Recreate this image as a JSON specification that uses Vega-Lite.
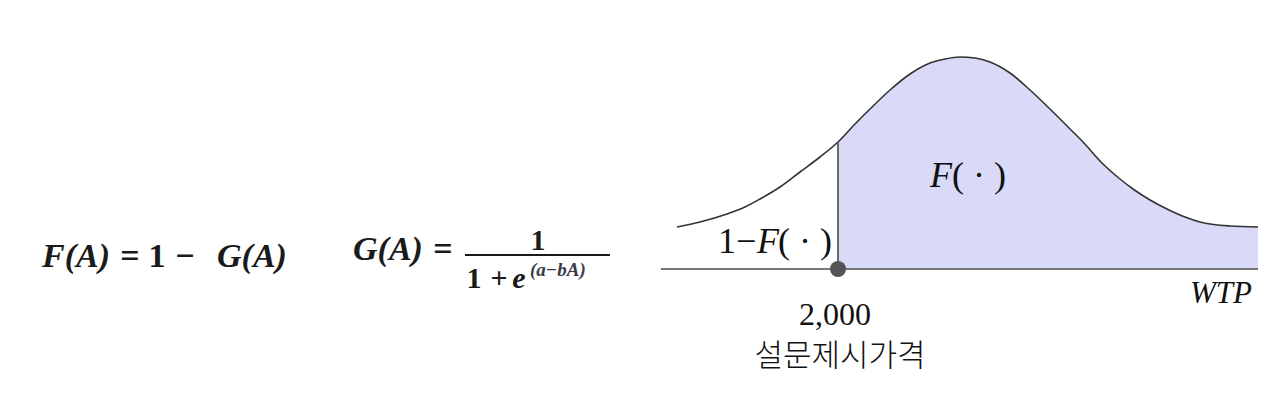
{
  "$schema": "https://vega.github.io/schema/vega-lite/v6.json",
  "width": 1280,
  "height": 413,
  "autosize": {"type": "fit", "contains": "padding"},
  "padding": 0,
  "background": "white",
  "config": {"view": {"stroke": null}},
  "datasets": {
    "curve": [
      {"x": 677, "h": 42}, {"x": 700, "h": 47}, {"x": 727, "h": 55}, {"x": 745, "h": 62},
      {"x": 760, "h": 70}, {"x": 780, "h": 82}, {"x": 800, "h": 97}, {"x": 820, "h": 112},
      {"x": 838, "h": 127}, {"x": 855, "h": 145}, {"x": 870, "h": 160}, {"x": 890, "h": 179},
      {"x": 910, "h": 195}, {"x": 930, "h": 206}, {"x": 945, "h": 210}, {"x": 960, "h": 212},
      {"x": 975, "h": 211}, {"x": 990, "h": 207}, {"x": 1010, "h": 196}, {"x": 1030, "h": 179},
      {"x": 1050, "h": 160}, {"x": 1070, "h": 140}, {"x": 1083, "h": 127}, {"x": 1103, "h": 105},
      {"x": 1120, "h": 90}, {"x": 1133, "h": 80}, {"x": 1150, "h": 69}, {"x": 1167, "h": 60},
      {"x": 1185, "h": 52}, {"x": 1200, "h": 47}, {"x": 1230, "h": 43}, {"x": 1258, "h": 42}
    ],
    "labels": [
      {"grp": "eqItalic", "x": 42, "h": 2, "t": "F(A)"},
      {"grp": "eqItalic", "x": 217, "h": 2, "t": "G(A)"},
      {"grp": "eqItalic", "x": 353, "h": 9, "t": "G(A)"},
      {"grp": "eqUpright", "x": 130, "h": 2, "t": "="},
      {"grp": "eqUpright", "x": 157, "h": 2, "t": "1"},
      {"grp": "eqUpright", "x": 185, "h": 2, "t": "−"},
      {"grp": "eqUpright", "x": 443, "h": 9, "t": "="},
      {"grp": "frac", "x": 538, "h": 19, "t": "1"},
      {"grp": "frac", "x": 474, "h": -19, "t": "1"},
      {"grp": "frac", "x": 499, "h": -19, "t": "+"},
      {"grp": "fracItalic", "x": 519, "h": -19, "t": "e"},
      {"grp": "sup", "x": 530, "h": -7, "t": "(a−bA)"},
      {"grp": "lblUp", "x": 718, "h": 16, "t": "1−"},
      {"grp": "lblUp", "x": 778, "h": 16, "t": "( · )"},
      {"grp": "lblUp", "x": 952, "h": 82, "t": "( · )"},
      {"grp": "lblIt", "x": 757, "h": 16, "t": "F"},
      {"grp": "lblIt", "x": 930, "h": 82, "t": "F"},
      {"grp": "wtp", "x": 1252, "h": -34, "t": "WTP"},
      {"grp": "price", "x": 835, "h": -56, "t": "2,000"},
      {"grp": "kor", "x": 840, "h": -97, "t": "설문제시가격"}
    ],
    "rules": [
      {"k": "base", "x1": 661, "x2": 1258, "y1": 0, "y2": 0},
      {"k": "vert", "x1": 838, "x2": 838, "y1": 0, "y2": 127},
      {"k": "bar", "x1": 465, "x2": 610, "y1": 14, "y2": 14}
    ],
    "dot": [{"x": 838, "h": 0}]
  },
  "layer": [
    {
      "data": {"name": "curve"},
      "transform": [{"filter": "datum.x >= 838"}],
      "mark": {"type": "area", "color": "#d9d9f8", "opacity": 1, "interpolate": "monotone"},
      "encoding": {
        "x": {"field": "x", "type": "quantitative", "scale": {"domain": [0, 1280], "nice": false, "zero": false}, "axis": null},
        "y": {"field": "h", "type": "quantitative", "scale": {"domain": [-144, 269], "nice": false, "zero": false}, "axis": null},
        "y2": {"datum": 0}
      }
    },
    {
      "data": {"name": "curve"},
      "mark": {"type": "line", "color": "#333333", "strokeWidth": 1.6, "interpolate": "monotone"},
      "encoding": {
        "x": {"field": "x", "type": "quantitative"},
        "y": {"field": "h", "type": "quantitative"}
      }
    },
    {
      "data": {"name": "rules"},
      "transform": [{"filter": "datum.k != 'bar'"}],
      "mark": {"type": "rule", "color": "#4a4a4a", "strokeWidth": 1.6},
      "encoding": {
        "x": {"field": "x1", "type": "quantitative"},
        "x2": {"field": "x2"},
        "y": {"field": "y1", "type": "quantitative"},
        "y2": {"field": "y2"}
      }
    },
    {
      "data": {"name": "rules"},
      "transform": [{"filter": "datum.k == 'bar'"}],
      "mark": {"type": "rule", "color": "#1a1a1a", "strokeWidth": 2},
      "encoding": {
        "x": {"field": "x1", "type": "quantitative"},
        "x2": {"field": "x2"},
        "y": {"field": "y1", "type": "quantitative"},
        "y2": {"field": "y2"}
      }
    },
    {
      "data": {"name": "dot"},
      "mark": {"type": "circle", "color": "#555555", "opacity": 1, "size": 260},
      "encoding": {
        "x": {"field": "x", "type": "quantitative"},
        "y": {"field": "h", "type": "quantitative"}
      }
    },
    {
      "data": {"name": "labels"},
      "transform": [{"filter": "datum.grp == 'eqItalic'"}],
      "mark": {"type": "text", "align": "left", "baseline": "alphabetic", "font": "'Liberation Serif', 'Times New Roman', 'DejaVu Serif', serif", "fontStyle": "italic", "fontWeight": "bold", "fontSize": 34, "color": "#1a1a1a"},
      "encoding": {"x": {"field": "x", "type": "quantitative"}, "y": {"field": "h", "type": "quantitative"}, "text": {"field": "t"}}
    },
    {
      "data": {"name": "labels"},
      "transform": [{"filter": "datum.grp == 'eqUpright'"}],
      "mark": {"type": "text", "align": "center", "baseline": "alphabetic", "font": "'Liberation Serif', 'Times New Roman', 'DejaVu Serif', serif", "fontWeight": "bold", "fontSize": 34, "color": "#1a1a1a"},
      "encoding": {"x": {"field": "x", "type": "quantitative"}, "y": {"field": "h", "type": "quantitative"}, "text": {"field": "t"}}
    },
    {
      "data": {"name": "labels"},
      "transform": [{"filter": "datum.grp == 'frac'"}],
      "mark": {"type": "text", "align": "center", "baseline": "alphabetic", "font": "'Liberation Serif', 'Times New Roman', 'DejaVu Serif', serif", "fontWeight": "bold", "fontSize": 30, "color": "#1a1a1a"},
      "encoding": {"x": {"field": "x", "type": "quantitative"}, "y": {"field": "h", "type": "quantitative"}, "text": {"field": "t"}}
    },
    {
      "data": {"name": "labels"},
      "transform": [{"filter": "datum.grp == 'fracItalic'"}],
      "mark": {"type": "text", "align": "center", "baseline": "alphabetic", "font": "'Liberation Serif', 'Times New Roman', 'DejaVu Serif', serif", "fontStyle": "italic", "fontWeight": "bold", "fontSize": 30, "color": "#1a1a1a"},
      "encoding": {"x": {"field": "x", "type": "quantitative"}, "y": {"field": "h", "type": "quantitative"}, "text": {"field": "t"}}
    },
    {
      "data": {"name": "labels"},
      "transform": [{"filter": "datum.grp == 'sup'"}],
      "mark": {"type": "text", "align": "left", "baseline": "alphabetic", "font": "'Liberation Serif', 'Times New Roman', 'DejaVu Serif', serif", "fontStyle": "italic", "fontWeight": "bold", "fontSize": 19, "color": "#3a3a4a"},
      "encoding": {"x": {"field": "x", "type": "quantitative"}, "y": {"field": "h", "type": "quantitative"}, "text": {"field": "t"}}
    },
    {
      "data": {"name": "labels"},
      "transform": [{"filter": "datum.grp == 'lblUp'"}],
      "mark": {"type": "text", "align": "left", "baseline": "alphabetic", "font": "'Liberation Serif', 'Times New Roman', 'DejaVu Serif', serif", "fontSize": 36, "color": "#111111"},
      "encoding": {"x": {"field": "x", "type": "quantitative"}, "y": {"field": "h", "type": "quantitative"}, "text": {"field": "t"}}
    },
    {
      "data": {"name": "labels"},
      "transform": [{"filter": "datum.grp == 'lblIt'"}],
      "mark": {"type": "text", "align": "left", "baseline": "alphabetic", "font": "'Liberation Serif', 'Times New Roman', 'DejaVu Serif', serif", "fontStyle": "italic", "fontSize": 36, "color": "#111111"},
      "encoding": {"x": {"field": "x", "type": "quantitative"}, "y": {"field": "h", "type": "quantitative"}, "text": {"field": "t"}}
    },
    {
      "data": {"name": "labels"},
      "transform": [{"filter": "datum.grp == 'wtp'"}],
      "mark": {"type": "text", "align": "right", "baseline": "alphabetic", "font": "'Liberation Serif', 'Times New Roman', 'DejaVu Serif', serif", "fontStyle": "italic", "fontSize": 31, "color": "#111111"},
      "encoding": {"x": {"field": "x", "type": "quantitative"}, "y": {"field": "h", "type": "quantitative"}, "text": {"field": "t"}}
    },
    {
      "data": {"name": "labels"},
      "transform": [{"filter": "datum.grp == 'price'"}],
      "mark": {"type": "text", "align": "center", "baseline": "alphabetic", "font": "'Liberation Serif', 'Times New Roman', 'DejaVu Serif', serif", "fontSize": 32, "color": "#111111"},
      "encoding": {"x": {"field": "x", "type": "quantitative"}, "y": {"field": "h", "type": "quantitative"}, "text": {"field": "t"}}
    },
    {
      "data": {"name": "labels"},
      "transform": [{"filter": "datum.grp == 'kor'"}],
      "mark": {"type": "text", "align": "center", "baseline": "alphabetic", "font": "Noto Sans CJK KR", "fontWeight": 300, "fontSize": 31, "color": "#111111"},
      "encoding": {"x": {"field": "x", "type": "quantitative"}, "y": {"field": "h", "type": "quantitative"}, "text": {"field": "t"}}
    }
  ]
}
